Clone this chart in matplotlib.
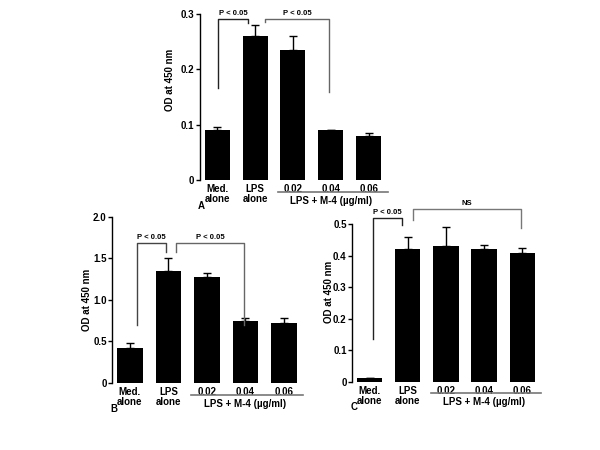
import matplotlib.pyplot as plt
import numpy as np

plt.rcParams['font.family'] = ['Liberation Sans', 'DejaVu Sans']
plt.rcParams['font.weight'] = 'bold'

groups = ['Med.\nalone', 'LPS\nalone', '0.02', '0.04', '0.06']
group_label = 'LPS + M-4 (µg/ml)'

# panel A
od_a = [0.09, 0.26, 0.235, 0.09, 0.08]
err_a = [0.005, 0.02, 0.025, 0.0, 0.005]
# panel B
od_b = [0.42, 1.35, 1.28, 0.75, 0.72]
err_b = [0.06, 0.15, 0.04, 0.03, 0.06]
# panel C
od_c = [0.012, 0.42, 0.43, 0.42, 0.41]
err_c = [0.0, 0.04, 0.06, 0.013, 0.015]


def panel(ax, vals, errs, ymax, yticks, yticklabels, letter):
    x = np.arange(len(vals))
    ax.bar(x, vals, width=0.66, color='black')
    ax.errorbar(x, vals, yerr=[np.zeros(len(errs)), errs], fmt='none',
                ecolor='black', elinewidth=1, capsize=3, capthick=1)
    ax.set_xlim(-0.46, 4.42)
    ax.set_ylim(0, ymax)
    ax.set_yticks(yticks)
    ax.set_yticklabels(yticklabels, fontsize=7, fontweight='bold')
    ax.set_xticks(x)
    ax.set_xticklabels(groups, fontsize=7, fontweight='bold', linespacing=1.0)
    ax.tick_params(axis='x', length=0, pad=3)
    ax.tick_params(axis='y', length=3, width=1, pad=1)
    for s in ['top', 'right', 'bottom']:
        ax.spines[s].set_visible(False)
    ax.spines['left'].set_linewidth(1)
    ax.set_ylabel('OD at 450 nm', fontsize=7, fontweight='bold')
    # line under the M-4 doses
    tr = ax.get_xaxis_transform()
    ax.plot([1.6, 4.5], [-0.07, -0.07], color='#777777', lw=1.2,
            transform=tr, clip_on=False)
    ax.text(3.0, -0.095, group_label, transform=tr, ha='center', va='top',
            fontsize=7, fontweight='bold')
    ax.text(-0.42, -0.125, letter, transform=tr, ha='center', va='top',
            fontsize=7, fontweight='bold')


def bracket(ax, x1, y1, x2, y2, top, label, color):
    ax.plot([x1, x1, x2, x2], [y1, top, top, y2], color=color, lw=1,
            clip_on=False)
    ax.text((x1 + x2) / 2.0, top * 1.012, label, ha='center', va='bottom',
            fontsize=5.5, fontweight='bold')


fig = plt.figure(figsize=(6, 4.5), dpi=100)

axA = fig.add_axes([0.333, 0.6, 0.308, 0.369])
panel(axA, od_a, err_a, 0.3, [0, 0.1, 0.2, 0.3], ['0', '0.1', '0.2', '0.3'], 'A')
bracket(axA, 0.03, 0.166, 0.82, 0.284, 0.291, 'P < 0.05', '#222222')
bracket(axA, 1.26, 0.286, 2.95, 0.159, 0.291, 'P < 0.05', '#666666')
axA.yaxis.set_label_coords(-0.135, 0.6)

axB = fig.add_axes([0.187, 0.149, 0.313, 0.369])
panel(axB, od_b, err_b, 2.0, [0, 0.5, 1.0, 1.5, 2.0],
      ['0', '0.5', '1.0', '1.5', '2.0'], 'B')
bracket(axB, 0.18, 0.70, 0.95, 1.58, 1.687, 'P < 0.05', '#444444')
bracket(axB, 1.2, 1.58, 2.97, 0.70, 1.687, 'P < 0.05', '#666666')
axB.yaxis.set_label_coords(-0.106, 0.5)

axC = fig.add_axes([0.587, 0.151, 0.31, 0.351])
panel(axC, od_c, err_c, 0.5, [0, 0.1, 0.2, 0.3, 0.4, 0.5],
      ['0', '0.1', '0.2', '0.3', '0.4', '0.5'], 'C')
bracket(axC, 0.08, 0.136, 0.85, 0.497, 0.519, 'P < 0.05', '#222222')
bracket(axC, 1.13, 0.513, 3.97, 0.487, 0.547, 'NS', '#777777')
axC.yaxis.set_label_coords(-0.10, 0.57)

plt.savefig('out.png', dpi=100)
